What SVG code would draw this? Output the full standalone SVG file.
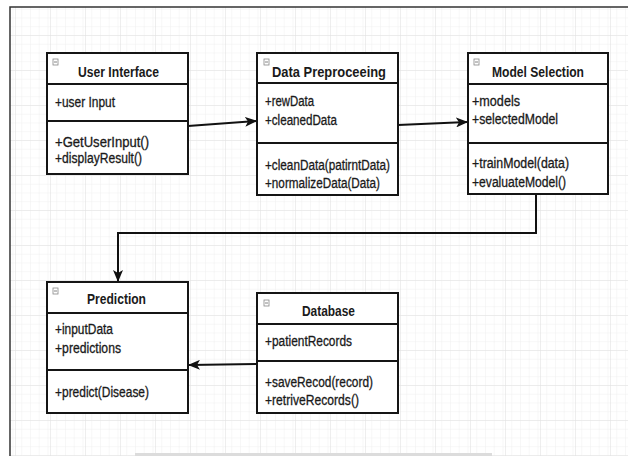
<svg xmlns="http://www.w3.org/2000/svg" width="628" height="456" viewBox="0 0 628 456">
  <defs>
    <pattern id="minor" x="15" y="0" width="8.75" height="8.75" patternUnits="userSpaceOnUse">
      <path d="M0,0 V8.75 M0,0 H8.75" fill="none" stroke="#efefef" stroke-width="1"/>
    </pattern>
    <pattern id="major" x="15" y="0" width="35" height="35" patternUnits="userSpaceOnUse">
      <rect width="35" height="35" fill="url(#minor)"/>
      <path d="M0,0 V35 M0,0 H35" fill="none" stroke="#e2e2e2" stroke-width="1.2"/>
    </pattern>
    <marker id="arrow" markerUnits="userSpaceOnUse" markerWidth="12" markerHeight="10" refX="11" refY="5" orient="auto" viewBox="0 0 12 10">
      <path d="M0,0 L12,5 L0,10 L3,5 Z" fill="#111"/>
    </marker>
    <style>
      .box { fill: #fff; stroke: #151515; stroke-width: 2; }
      .sep { stroke: #151515; stroke-width: 2; }
      .title { font-family: "Liberation Sans", Arial, sans-serif; font-size: 15px; font-weight: bold; fill: #1a1a1a; }
      .mem { font-family: "Liberation Sans", Arial, sans-serif; font-size: 14px; fill: #1a1a1a; stroke: #1a1a1a; stroke-width: 0.3; }
      .icon { fill: #fff; stroke: #888; stroke-width: 0.8; }
      .iconm { stroke: #666; stroke-width: 0.8; }
      .conn { fill: none; stroke: #111; stroke-width: 2; }
    </style>
  </defs>

  <rect x="0" y="0" width="628" height="456" fill="#fff"/>
  <rect x="10" y="7" width="618" height="449" fill="url(#major)"/>
  <path d="M10,456 V7 H628" fill="none" stroke="#333" stroke-width="1.5"/>
  <rect x="135" y="453" width="357" height="3" fill="#dcdcdc"/>

  <g id="connectors">
    <path class="conn" d="M188,126 L256,121" marker-end="url(#arrow)"/>
    <path class="conn" d="M398,125 L467,122" marker-end="url(#arrow)"/>
    <path class="conn" d="M536,194 V233 H118 V281" marker-end="url(#arrow)"/>
    <path class="conn" d="M257,364 L189,365" marker-end="url(#arrow)"/>
  </g>

  <g id="user-interface">
    <rect class="box" x="47" y="53" width="141" height="121"/>
    <line class="sep" x1="47" y1="84" x2="188" y2="84"/>
    <line class="sep" x1="47" y1="121" x2="188" y2="121"/>
    <rect class="icon" x="53" y="59" width="5" height="6"/>
    <line class="iconm" x1="54" y1="62" x2="57" y2="62"/>
    <text class="title" x="78" y="77" textLength="81" lengthAdjust="spacingAndGlyphs">User Interface</text>
    <text class="mem" x="55" y="107" textLength="60" lengthAdjust="spacingAndGlyphs">+user Input</text>
    <text class="mem" x="55" y="147" textLength="94" lengthAdjust="spacingAndGlyphs">+GetUserInput()</text>
    <text class="mem" x="55" y="163" textLength="87" lengthAdjust="spacingAndGlyphs">+displayResult()</text>
  </g>

  <g id="data-preprocessing">
    <rect class="box" x="257" y="53" width="141" height="142"/>
    <line class="sep" x1="257" y1="83" x2="398" y2="83"/>
    <line class="sep" x1="257" y1="143" x2="398" y2="143"/>
    <rect class="icon" x="264" y="59" width="5" height="6"/>
    <line class="iconm" x1="265" y1="62" x2="268" y2="62"/>
    <text class="title" x="272" y="77" textLength="114" lengthAdjust="spacingAndGlyphs">Data Preproceeing</text>
    <text class="mem" x="265" y="106" textLength="49" lengthAdjust="spacingAndGlyphs">+rewData</text>
    <text class="mem" x="265" y="125" textLength="72" lengthAdjust="spacingAndGlyphs">+cleanedData</text>
    <text class="mem" x="265" y="170" textLength="125" lengthAdjust="spacingAndGlyphs">+cleanData(patirntData)</text>
    <text class="mem" x="265" y="188" textLength="115" lengthAdjust="spacingAndGlyphs">+normalizeData(Data)</text>
  </g>

  <g id="model-selection">
    <rect class="box" x="468" y="53" width="140" height="141"/>
    <line class="sep" x1="468" y1="84" x2="608" y2="84"/>
    <line class="sep" x1="468" y1="143" x2="608" y2="143"/>
    <rect class="icon" x="474" y="59" width="5" height="6"/>
    <line class="iconm" x1="475" y1="62" x2="478" y2="62"/>
    <text class="title" x="492" y="77" textLength="92" lengthAdjust="spacingAndGlyphs">Model Selection</text>
    <text class="mem" x="472" y="106" textLength="48" lengthAdjust="spacingAndGlyphs">+models</text>
    <text class="mem" x="472" y="124" textLength="86" lengthAdjust="spacingAndGlyphs">+selectedModel</text>
    <text class="mem" x="472" y="168" textLength="97" lengthAdjust="spacingAndGlyphs">+trainModel(data)</text>
    <text class="mem" x="472" y="187" textLength="94" lengthAdjust="spacingAndGlyphs">+evaluateModel()</text>
  </g>

  <g id="prediction">
    <rect class="box" x="47" y="282" width="141" height="131"/>
    <line class="sep" x1="47" y1="313" x2="188" y2="313"/>
    <line class="sep" x1="47" y1="370" x2="188" y2="370"/>
    <rect class="icon" x="53" y="288" width="5" height="6"/>
    <line class="iconm" x1="54" y1="291" x2="57" y2="291"/>
    <text class="title" x="87" y="304" textLength="59" lengthAdjust="spacingAndGlyphs">Prediction</text>
    <text class="mem" x="55" y="334" textLength="58" lengthAdjust="spacingAndGlyphs">+inputData</text>
    <text class="mem" x="55" y="353" textLength="66" lengthAdjust="spacingAndGlyphs">+predictions</text>
    <text class="mem" x="55" y="397" textLength="94" lengthAdjust="spacingAndGlyphs">+predict(Disease)</text>
  </g>

  <g id="database">
    <rect class="box" x="257" y="293" width="141" height="120"/>
    <line class="sep" x1="257" y1="324" x2="398" y2="324"/>
    <line class="sep" x1="257" y1="361" x2="398" y2="361"/>
    <rect class="icon" x="264" y="300" width="5" height="6"/>
    <line class="iconm" x1="265" y1="303" x2="268" y2="303"/>
    <text class="title" x="302" y="316" textLength="53" lengthAdjust="spacingAndGlyphs">Database</text>
    <text class="mem" x="265" y="346" textLength="87" lengthAdjust="spacingAndGlyphs">+patientRecords</text>
    <text class="mem" x="265" y="387" textLength="108" lengthAdjust="spacingAndGlyphs">+saveRecod(record)</text>
    <text class="mem" x="265" y="405" textLength="94" lengthAdjust="spacingAndGlyphs">+retriveRecords()</text>
  </g>
</svg>
